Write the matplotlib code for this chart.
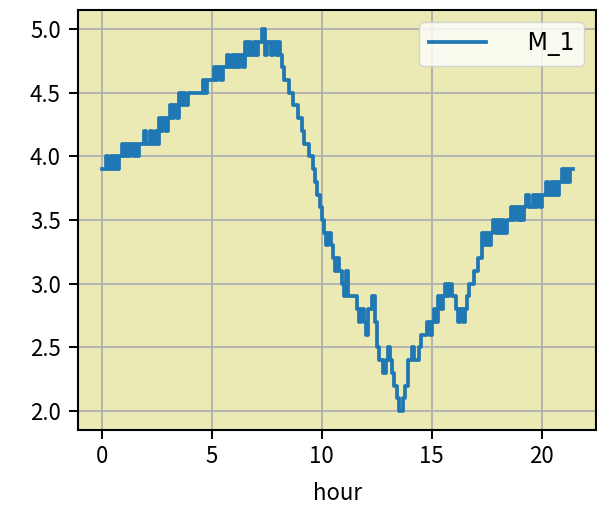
import numpy as np
import matplotlib
matplotlib.use("Agg")
import matplotlib.pyplot as plt

plt.rcParams['font.family'] = ['Noto Sans CJK SC', 'DejaVu Sans']
plt.rcParams['axes.unicode_minus'] = False

# sampled every 0.1 hour, values in tenths
step_hours = 0.1
values_tenths = [
    39, 39, 40, 39, 40, 39, 40, 39, 40, 41,   # 0.0 - 0.9
    40, 41, 40, 41, 40, 41, 40, 41, 41, 42,   # 1.0 - 1.9
    41, 41, 42, 41, 42, 41, 43, 42, 43, 42,   # 2.0 - 2.9
    43, 44, 43, 44, 43, 45, 44, 45, 44, 45,   # 3.0 - 3.9
    45, 45, 45, 45, 45, 45, 46, 45, 46, 46,   # 4.0 - 4.9
    46, 47, 46, 47, 46, 47, 47, 48, 47, 48,   # 5.0 - 5.9
    47, 48, 47, 48, 47, 49, 48, 49, 48, 49,   # 6.0 - 6.9
    48, 49, 49, 50, 48, 49, 49, 48, 49, 48,   # 7.0 - 7.9
    49, 48, 47, 46, 46, 45, 45, 44, 44, 43,   # 8.0 - 8.9
    43, 42, 41, 41, 40, 40, 39, 38, 37, 36,   # 9.0 - 9.9
    35, 34, 33, 34, 33, 32, 31, 32, 31, 30,   # 10.0 - 10.9
    29, 31, 29, 29, 29, 29, 28, 27, 28, 27,   # 11.0 - 11.9
    26, 28, 28, 29, 27, 25, 24, 24, 23, 24,   # 12.0 - 12.9
    25, 24, 23, 22, 21, 20, 20, 21, 22, 24,   # 13.0 - 13.9
    24, 25, 24, 24, 25, 26, 26, 26, 27, 26,   # 14.0 - 14.9
    27, 28, 27, 29, 28, 29, 30, 29, 30, 29,   # 15.0 - 15.9
    29, 28, 27, 28, 27, 28, 29, 30, 30, 31,   # 16.0 - 16.9
    31, 32, 32, 34, 33, 34, 33, 34, 35, 34,   # 17.0 - 17.9
    35, 34, 35, 34, 35, 35, 36, 35, 36, 35,   # 18.0 - 18.9
    36, 35, 36, 37, 36, 36, 37, 36, 37, 36,   # 19.0 - 19.9
    37, 37, 38, 37, 38, 37, 38, 37, 38, 39,   # 20.0 - 20.9
    38, 39, 38, 39, 39,                       # 21.0 - 21.4
]
series_label = '   M_1'
x_label = 'hour'

hours = np.arange(len(values_tenths)) * step_hours
values = np.array(values_tenths) / 10.0

fig = plt.figure(figsize=(5.97, 5.12), dpi=100)
ax = fig.add_axes([0.131, 0.160, 0.8675, 0.8205])
ax.set_facecolor('#ECEAB4')

ax.plot(hours, values, drawstyle='steps-post', color='#1f77b4', lw=2.7,
        label=series_label)

ax.grid(True, color='#b0b0b0', lw=1.3)
ax.set_axisbelow(True)
ax.set_xticks([0, 5, 10, 15, 20])
ax.set_yticks([2.0, 2.5, 3.0, 3.5, 4.0, 4.5, 5.0])
ax.yaxis.set_major_formatter(matplotlib.ticker.FormatStrFormatter('%.1f'))
ax.tick_params(labelsize=16, width=1.4, length=6.5, pad=4)
ax.tick_params(axis='y', pad=6)
for s in ax.spines.values():
    s.set_linewidth(1.5)
ax.set_xlabel(x_label, fontsize=16, labelpad=10)

leg = ax.legend(loc='upper right', handlelength=2.45,
                prop={'family': ['Liberation Sans Narrow', 'DejaVu Sans'],
                      'size': 17})

fig.savefig('out.png', dpi=100)
